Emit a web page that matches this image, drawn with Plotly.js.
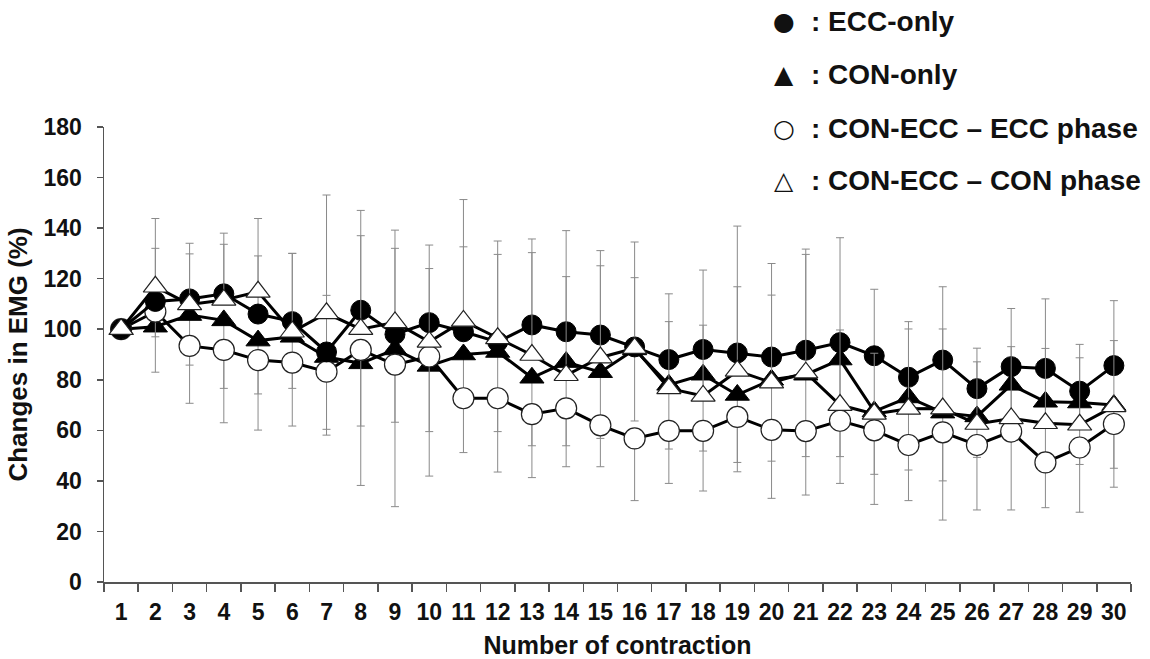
<!DOCTYPE html>
<html><head><meta charset="utf-8">
<script src="https://cdn.plot.ly/plotly-3.0.1.min.js"></script>
<style>html,body{margin:0;padding:0;background:#fff}#chart{width:1150px;height:659px}</style>
</head><body><div id="chart"></div>
<script>
// Categories (number of contraction)
const contraction = ['1','2','3','4','5','6','7','8','9','10','11','12','13','14','15','16','17','18','19','20','21','22','23','24','25','26','27','28','29','30'];

// Series means (% change in EMG)
const eccOnly = [100,111,112,114,106,103,91,107.5,98,102.6,99,95,101.7,99,97.7,93,88,92,90.6,89,91.7,94.7,89.5,81,87.8,76.5,85.2,84.5,75.5,85.6];
const conOnly = [100,101,105.6,103.5,95.5,97,89,86.5,92,85.5,90,91,80.8,87,83,92,78,82,74,80,82,88,67.5,73,67,65.5,78,71.3,71,70];
const conEccEcc = [100,107,93.4,91.8,87.8,86.8,83.2,91.8,86,89.2,72.7,72.7,66.4,68.7,62,56.8,59.8,59.8,65.3,60.2,59.7,63.8,60,54.2,59.2,54.2,59.5,47.3,53.2,62.5];
const conEccCon = [100,116.8,109.8,111.6,114.8,99,106.3,100,102.7,95,103.3,96.4,89.8,81.8,88.8,92.5,76.6,73.6,83.5,78.9,82.8,70,66.5,68.5,68.6,62.5,64.7,62.8,62.2,69.5];

// Standard deviations (drawn one-sided: up for ECC-only & CON-ECC CON phase, down for the others)
const eccOnlySD = [0,21,22,24,23,27,22.4,39.5,34,30.7,33.6,34.6,34,40,33.4,27.4,26,31.4,50.2,37,40,41.5,26.3,22,29,16,23,27.5,18.5,25.7];
const conOnlySD = [0,18,19.8,26.9,21.1,20.4,30.9,48.3,28.8,43.6,15,31.5,39.5,41.4,26.2,28.3,25.4,30.2,30.4,32.2,32.4,38.4,24.9,28.7,27,16.2,12,24,24.5,25];
const conEccEccSD = [0,10,22.7,28.8,27.7,25.1,22.8,30.1,56.2,29.7,21.5,29.2,12.5,14.8,16.4,24.6,20.8,23.8,18,27.1,25.3,24.8,29.3,22,34.7,25.7,31,17.9,25.6,25];
const conEccConSD = [0,27,20,22,29,31,46.8,37,36.5,29,48,38.5,40.5,39,36.3,42,26.4,28,33.3,34.6,46.8,29.7,24,31.6,31.5,24.6,28.4,29.6,26.5,26];

// Legend entries
const legendSymbols = ['\u25CF','\u25B2','\u25CB','\u25B3'];
const legendLabels = ['ECC-only','CON-only','CON-ECC \u2013 ECC phase','CON-ECC \u2013 CON phase'];

const yTickVals = [0,20,40,60,80,100,120,140,160,180];

const zeros = contraction.map(() => 0);
const errColor = '#8a8a8a';
function errUp(sd){ return {type:'data', symmetric:false, array:sd, arrayminus:zeros, color:errColor, thickness:1, width:4}; }
function errDown(sd){ return {type:'data', symmetric:false, array:zeros, arrayminus:sd, color:errColor, thickness:1, width:4}; }

const traces = [
  {name:'CON-only', x:contraction, y:conOnly, type:'scatter', mode:'lines+markers',
   line:{color:'#000', width:3}, marker:{symbol:'triangle-up', size:21, color:'#000', line:{color:'#000', width:1}},
   error_y: errDown(conOnlySD)},
  {name:'CON-ECC – ECC phase', x:contraction, y:conEccEcc, type:'scatter', mode:'lines+markers',
   line:{color:'#000', width:3}, marker:{symbol:'circle', size:21, color:'#fff', line:{color:'#222', width:1.2}},
   error_y: errDown(conEccEccSD)},
  {name:'ECC-only', x:contraction, y:eccOnly, type:'scatter', mode:'lines+markers',
   line:{color:'#000', width:3}, marker:{symbol:'circle', size:20, color:'#000', line:{color:'#000', width:1}},
   error_y: errUp(eccOnlySD)},
  {name:'CON-ECC – CON phase', x:contraction, y:conEccCon, type:'scatter', mode:'lines+markers',
   line:{color:'#000', width:3}, marker:{symbol:'triangle-up', size:21, color:'#fff', line:{color:'#222', width:1.2}},
   error_y: errUp(conEccConSD)}
];

const L = 104, R = 19, T = 127, B = 77;
const plotW = 1150 - L - R, plotH = 659 - T - B;
const legendRowsPx = [22, 75, 128, 180];
const annotations = [];
legendLabels.forEach((lab, i) => {
  const py = (659 - B - legendRowsPx[i]) / plotH;
  annotations.push({xref:'paper', yref:'paper', x:(784 - L)/plotW, y:py, xanchor:'center', yanchor:'middle',
    text:legendSymbols[i], showarrow:false, font:{family:'DejaVu Sans', size:25, color:'#111'}});
  annotations.push({xref:'paper', yref:'paper', x:(809 - L)/plotW, y:py, xanchor:'left', yanchor:'middle',
    text:': ' + lab, showarrow:false, font:{family:'Liberation Sans, Arial, sans-serif', size:28, color:'#111', weight:'bold'}});
});

const tickFont = {family:'Liberation Sans, Arial, sans-serif', size:23, color:'#111', weight:'bold'};
const layout = {
  width:1150, height:659,
  margin:{l:L, r:R, t:T, b:B, pad:0},
  paper_bgcolor:'#fff', plot_bgcolor:'#fff',
  showlegend:false,
  xaxis:{type:'category', categoryorder:'array', categoryarray:contraction, range:[-0.5, 29.5],
    showline:true, linecolor:'#555', linewidth:1.5, showgrid:false, zeroline:false,
    ticks:'outside', tickson:'boundaries', ticklen:8, tickcolor:'#555', tickwidth:1.5,
    tickfont:tickFont, tickangle:0, ticklabelstandoff:9,
    title:{text:'Number of contraction', font:{family:'Liberation Sans, Arial, sans-serif', size:25, color:'#111', weight:'bold'}, standoff:13}},
  yaxis:{range:[0,180], tickvals:yTickVals, showline:true, linecolor:'#555', linewidth:1.5, showgrid:false, zeroline:false,
    ticks:'outside', ticklen:6, tickcolor:'#555', tickwidth:1.5, tickfont:tickFont, ticklabelstandoff:10,
    title:{text:'Changes in EMG (%)', font:{family:'Liberation Sans, Arial, sans-serif', size:26, color:'#111', weight:'bold'}, standoff:8}},
  annotations: annotations
};

Plotly.newPlot('chart', traces, layout, {displayModeBar:false, staticPlot:true});
</script>
</body></html>
